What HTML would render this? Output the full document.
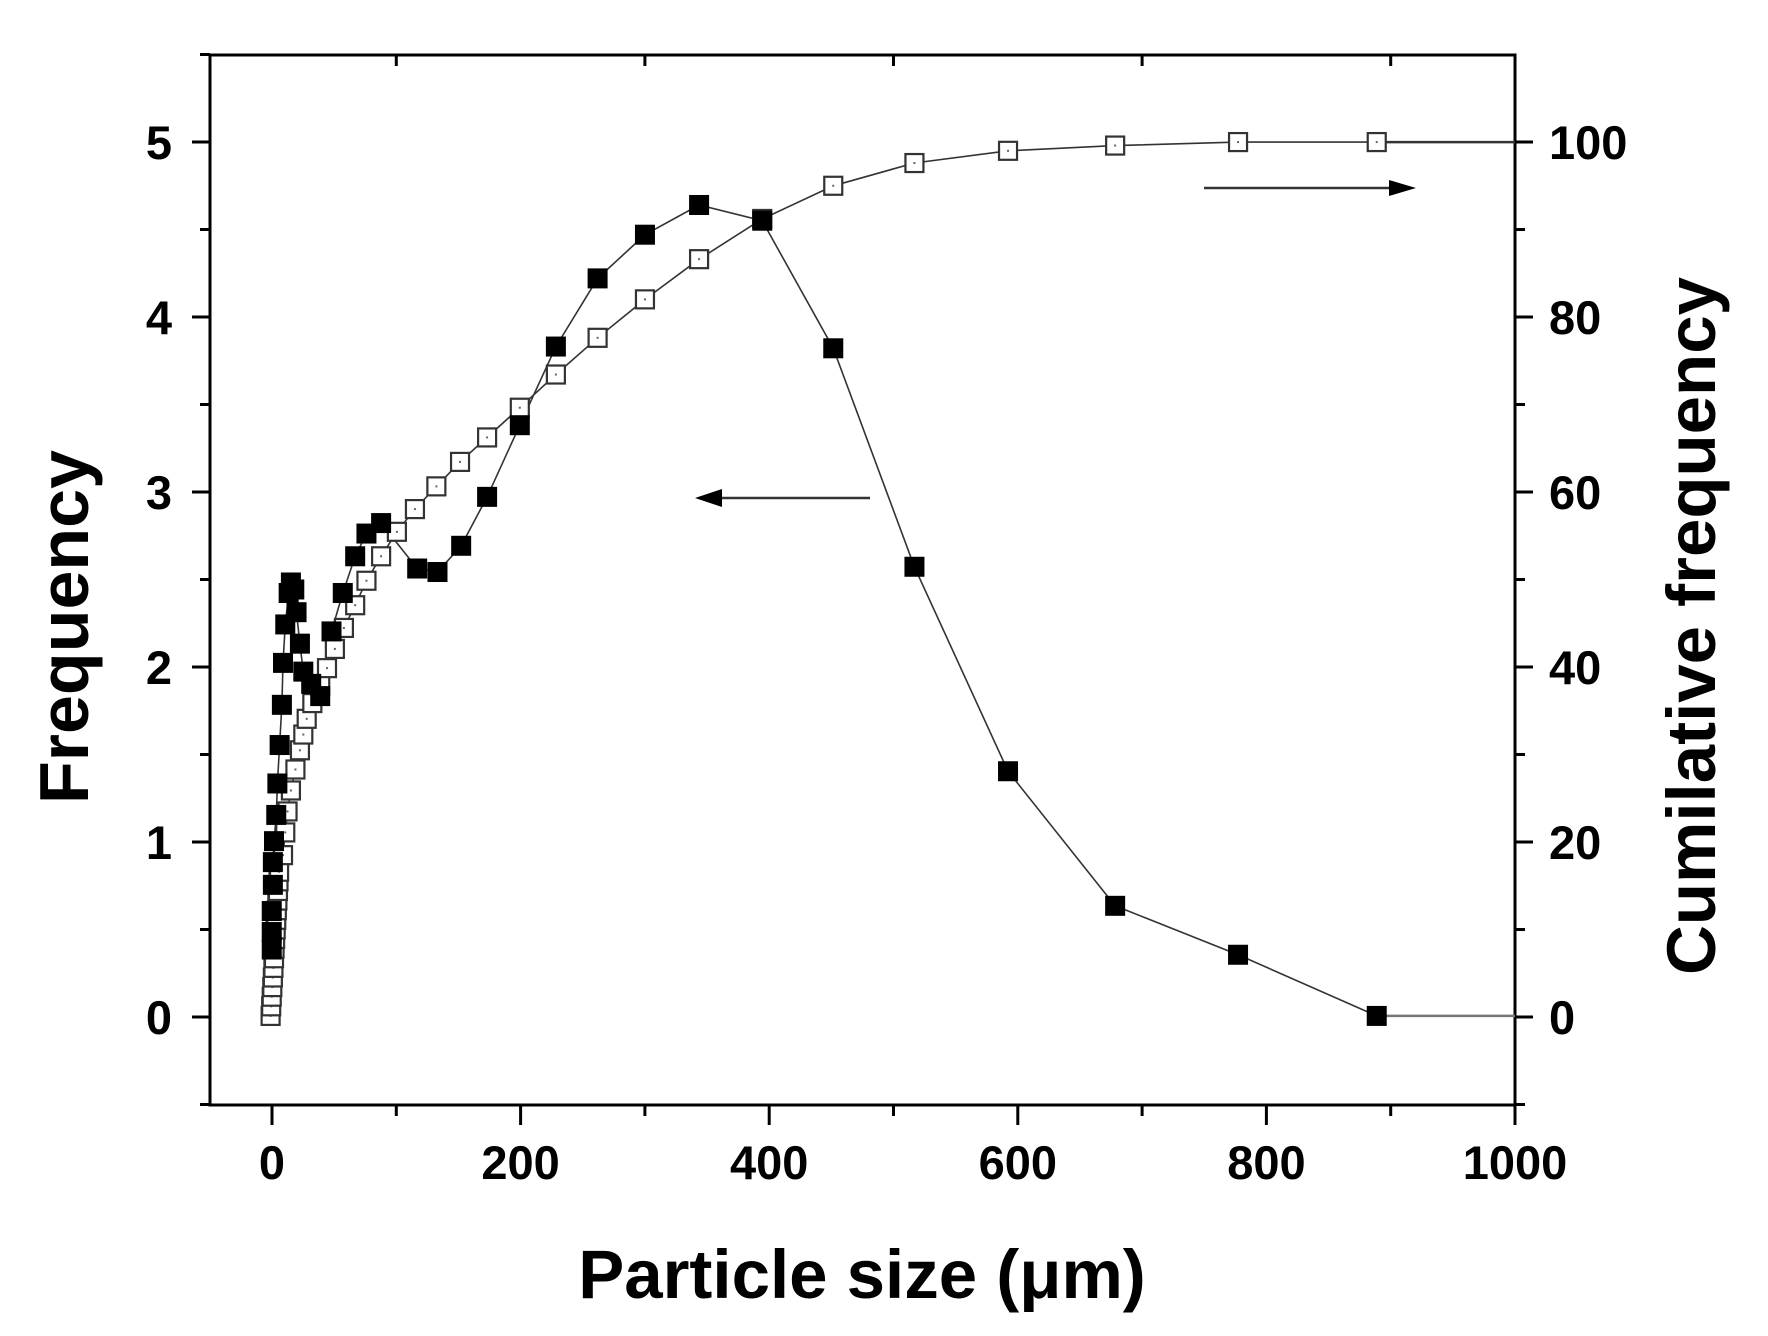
<!DOCTYPE html>
<html><head><meta charset="utf-8"><style>
html,body{margin:0;padding:0;background:#fff}
svg{display:block}
text{font-family:"Liberation Sans",Arial,sans-serif;font-weight:bold;fill:#000}
</style></head><body>
<svg id="s" width="1768" height="1336" viewBox="0 0 1768 1336" xmlns="http://www.w3.org/2000/svg">
<rect width="1768" height="1336" fill="#fff"/>
<g id="axes" stroke="#000" stroke-width="3" fill="none">
<rect x="210" y="55" width="1305" height="1050"/>
</g>
<g id="ticks" stroke="#000" stroke-width="3"></g>
<g id="data"></g>
<g id="labels" font-size="47"></g>
<line x1="722" y1="498" x2="870" y2="498" stroke="#333" stroke-width="2.5"/>
<polygon points="695,498 722,489 722,507" fill="#000"/>
<line x1="1204" y1="188" x2="1390" y2="188" stroke="#333" stroke-width="2.5"/>
<polygon points="1416,188 1389,180 1389,196" fill="#000"/>
<text x="862" y="1298" font-size="69" text-anchor="middle">Particle size (μm)</text>
<text transform="translate(88,627) rotate(-90)" font-size="70" text-anchor="middle">Frequency</text>
<text transform="translate(1715,626) rotate(-90)" font-size="69" text-anchor="middle">Cumilative frequency</text>
</svg>
<script>
var NS="http://www.w3.org/2000/svg";
function X(d){return 272+d*1.243;}
function Yf(f){return 1017-f*175;}
function el(t,a,p){var e=document.createElementNS(NS,t);for(var k in a)e.setAttribute(k,a[k]);p.appendChild(e);return e;}
var tk=document.getElementById('ticks'),lb=document.getElementById('labels');
for(var f=-0.5;f<=5.5;f+=0.5){var y=Yf(f),maj=Math.abs(f-Math.round(f))<1e-6&&f>=0&&f<=5;
 el('line',{x1:210,y1:y,x2:210-(maj?18:10),y2:y},tk);
 if(maj){var t=el('text',{x:172,y:y+17,'text-anchor':'end'},lb);t.textContent=Math.round(f);}}
for(var c=-10;c<=110;c+=10){var y=1017-c*8.75;if(y<55||y>1105)continue;var maj=c%20==0&&c>=0&&c<=100;
 el('line',{x1:1515,y1:y,x2:1515+(maj?18:10),y2:y},tk);
 if(maj){var t=el('text',{x:1549,y:y+17,'text-anchor':'start'},lb);t.textContent=c;}}
for(var d=0;d<=1000;d+=100){var x=X(d),maj=d%200==0;
 el('line',{x1:x,y1:1105,x2:x,y2:1105+(maj?20:11)},tk);
 el('line',{x1:x,y1:55,x2:x,y2:55+(maj?0:11)},tk);
 if(maj){var t=el('text',{x:x,y:1179,'text-anchor':'middle'},lb);t.textContent=d;}}
var S=1768/1568;
function dy(f){return (901-f*155)*S;}
var filled=[[241,0.38],[241,0.48],[241,0.6],[242,0.75],[242,0.88],[243,1.0],[245,1.15],[246,1.33],[248,1.55],[250,1.78],[251,2.02],[253,2.24],[256,2.42],[258,2.48],[261,2.44],[263,2.31],[266,2.13],[269,1.97],[276,1.90],[284,1.83],[294,2.20],[304,2.42],[315,2.63],[325,2.76],[338,2.82],[370,2.56],[388,2.54],[409,2.69],[432,2.97],[461,3.38],[493,3.83],[530,4.22],[572,4.47],[620,4.64],[676,4.55],[739,3.82],[811,2.57],[894,1.40],[989,0.63],[1098,0.35],[1221,0.0]];
var open=[];
for(var i=0;i<16;i++){open.push([240+i*0.5,i*0.055]);}
open=open.concat([[251,0.92],[253,1.05],[255,1.17],[258,1.29],[262,1.41],[266,1.52],[269,1.61],[272,1.70],[277,1.79],[284,1.89],[290,1.99],[297,2.10],[305,2.22],[315,2.35],[325,2.49],[338,2.63],[352,2.77],[368,2.90],[387,3.03],[408,3.17],[432,3.31],[461,3.48],[493,3.67],[530,3.88],[572,4.10],[620,4.33],[676,4.56],[739,4.75],[811,4.88],[894,4.95],[989,4.98],[1098,5.0],[1221,5.0]]);
var g=document.getElementById('data');
function pts(a){return a.map(function(p){return (p[0]*S).toFixed(1)+','+dy(p[1]).toFixed(1);}).join(' ');}
el('polyline',{points:pts(filled),fill:'none',stroke:'#333','stroke-width':1.6},g);
el('line',{x1:1221*S,y1:dy(0),x2:1515,y2:dy(0),stroke:'#777','stroke-width':2.5},g);
el('polyline',{points:pts(open),fill:'none',stroke:'#333','stroke-width':1.6},g);
el('line',{x1:1221*S,y1:dy(5),x2:1515,y2:dy(5),stroke:'#333','stroke-width':2.5},g);
open.forEach(function(p){var x=p[0]*S,y=dy(p[1]);
 el('rect',{x:x-9,y:y-9,width:18,height:18,fill:'#fff',stroke:'#333','stroke-width':2.2},g);
 el('rect',{x:x-1,y:y-1,width:2,height:2,fill:'#666'},g);});
filled.forEach(function(p){var x=p[0]*S,y=dy(p[1]);
 el('rect',{x:x-10,y:y-10,width:20,height:20,fill:'#000'},g);});
</script>
</body></html>
